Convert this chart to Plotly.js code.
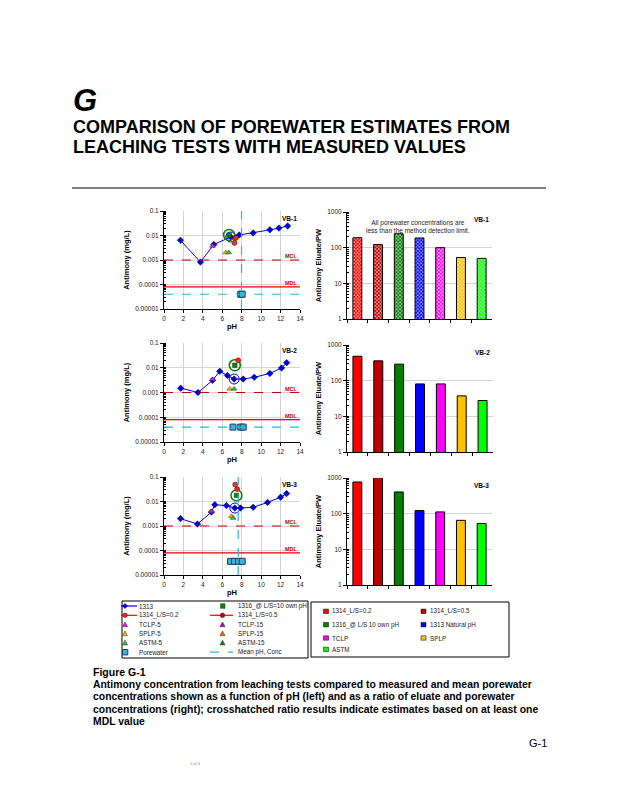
<!DOCTYPE html>
<html><head><meta charset="utf-8">
<script src="https://cdn.plot.ly/plotly-3.0.1.min.js"></script>
<style>html,body{margin:0;padding:0;background:#fff;}#chart{width:618px;height:800px;}</style>
</head><body><div id="chart"></div>
<script>
// ---------------- DATA ----------------
const vb1_1313_pH   = [1.69, 3.75, 5.13, 6.88, 7.74, 9.18, 10.9, 11.83, 12.73];
const vb1_1313_conc = [0.0064, 0.00082, 0.0043, 0.0087, 0.0105, 0.0127, 0.017, 0.020, 0.0245];
const vb2_1313_pH   = [1.72, 3.5, 5.0, 5.74, 6.53, 7.22, 8.15, 9.29, 10.9, 12.1, 12.63];
const vb2_1313_conc = [0.0015, 0.001, 0.0031, 0.0072, 0.0049, 0.0035, 0.0035, 0.0041, 0.0059, 0.0098, 0.016];
const vb3_1313_pH   = [1.69, 3.44, 4.88, 5.23, 6.43, 7.29, 7.88, 9.18, 10.66, 12.0, 12.62];
const vb3_1313_conc = [0.002, 0.0012, 0.0037, 0.0074, 0.0068, 0.0054, 0.0054, 0.0058, 0.0092, 0.015, 0.021];

const natural_pH   = [6.88, 7.22, 7.29];      // 1313 natural pH point (VB-1, VB-2, VB-3)
const natural_conc = [0.0087, 0.0035, 0.0054];
const own_pH   = [6.7, 7.29, 7.46];           // 1316 @ L/S 10 own pH
const own_conc = [0.0105, 0.0126, 0.0177];
const ls02_pH   = [7.4, 7.64, 7.53];          // 1314 L/S=0.2
const ls02_conc = [0.0079, 0.02, 0.032];
const ls05_pH   = [7.26, null, 7.33];         // 1314 L/S=0.5
const ls05_conc = [0.005, null, 0.049];
const tclp_pH   = [4.99, 5.0, 4.88];
const tclp_conc = [0.0037, 0.0034, 0.0039];
const splp_pH   = [6.36, 6.78, 6.95];
const splp_conc = [0.002, 0.0014, 0.0025];
const astm_pH   = [6.67, 7.22, 7.12];
const astm_conc = [0.002, 0.0014, 0.0021];
const vb1_pw_pH = [7.9, 8.05];
const vb1_pw_conc = [0.00004, 0.00004];
const vb2_pw_pH = [7.1, 7.9, 8.15];
const vb2_pw_conc = [0.00004, 0.00004, 0.00004];
const vb3_pw_pH = [6.85, 7.26, 7.67, 8.05];
const vb3_pw_conc = [0.000036, 0.000036, 0.000036, 0.000036];
const mean_pH   = [7.98, null, 7.64];
const mean_conc = [0.00004, 0.00004, null];
const MCL = 0.001;
const MDL = 0.00008;

const barCategories = ["1314_L/S=0.2", "1314_L/S=0.5", "1316_@L/S 10 own pH", "1313 Natural pH", "TCLP", "SPLP", "ASTM"];
const barColors = ["#FF0000", "#C00000", "#008000", "#0000FF", "#FF00FF", "#FFC000", "#00FF00"];
const vb1_ratio = [190, 122, 245, 187, 100, 53, 50];
const vb2_ratio = [484, 359, 290, 81, 81, 37.5, 27.8];
const vb3_ratio = [773, 1100, 406, 122, 112, 65, 53];

const leftTickVals = [0.00001, 0.0001, 0.001, 0.01, 0.1];
const leftTickText = ["0.00001", "0.0001", "0.001", "0.01", "0.1"];
const rightTickVals = [1, 10, 100, 1000];
const rightTickText = ["1", "10", "100", "1000"];
const sites = ["VB-1", "VB-2", "VB-3"];

// ---------------- LAYOUT HELPERS ----------------
const W = 618, H = 800;
const PX = x => x / W;
const PY = y => 1 - y / H;
const FONT = "Liberation Sans, Arial, sans-serif";

const leftBoxes = [[164, 300, 211, 309], [164, 300, 343, 442], [164, 300, 477, 575]];
const rightBoxes = [[347, 492, 212, 319], [347, 493, 345, 452], [347, 492, 478, 585]];

const layout = {
  width: W, height: H, margin: {l: 0, r: 0, t: 0, b: 0},
  paper_bgcolor: "#fff", plot_bgcolor: "#fff",
  showlegend: false, font: {family: FONT, size: 7, color: "#000"},
  bargap: 0.57, shapes: [], annotations: []
};

const data = [];
const pH_sets = [[vb1_1313_pH, vb1_1313_conc], [vb2_1313_pH, vb2_1313_conc], [vb3_1313_pH, vb3_1313_conc]];
const pw_sets = [[vb1_pw_pH, vb1_pw_conc], [vb2_pw_pH, vb2_pw_conc], [vb3_pw_pH, vb3_pw_conc]];
const ratios = [vb1_ratio, vb2_ratio, vb3_ratio];

for (let i = 0; i < 3; i++) {
  const lx = 2 * i + 1, rx = 2 * i + 2;
  const lxa = "x" + (lx === 1 ? "" : lx), lya = "y" + (lx === 1 ? "" : lx);
  const rxa = "x" + rx, rya = "y" + rx;
  const lb = leftBoxes[i], rb = rightBoxes[i];
  const axL = "xaxis" + (lx === 1 ? "" : lx), ayL = "yaxis" + (lx === 1 ? "" : lx);
  layout[axL] = {
    domain: [PX(lb[0]), PX(lb[1])], anchor: lya, range: [0, 14], dtick: 2, tick0: 0,
    ticks: "outside", ticklen: 3, tickcolor: "#000", showline: true, linecolor: "#000", linewidth: 1,
    gridcolor: "#d4d4d4", gridwidth: 1, zeroline: false, tickfont: {size: 6.5, color: "#222"},
    title: {text: "pH", font: {size: 7.5, weight: "bold"}, standoff: 2}
  };
  layout[ayL] = {
    domain: [PY(lb[3]), PY(lb[2])], anchor: lxa, type: "log", range: [-5, -1],
    tickmode: "array", tickvals: leftTickVals, ticktext: leftTickText,
    ticks: "outside", ticklen: 3, tickcolor: "#000", showline: true, linecolor: "#000", linewidth: 1,
    gridcolor: "#d4d4d4", gridwidth: 1, zeroline: false, tickfont: {size: 6.5, color: "#222"},
    minor: {ticks: "inside", ticklen: 2, tickcolor: "#000", dtick: "D1", showgrid: false},
    title: {text: "Antimony (mg/L)", font: {size: 7.5, weight: "bold"}, standoff: 4}
  };
  layout["xaxis" + rx] = {
    domain: [PX(rb[0]), PX(rb[1])], anchor: rya, type: "category", range: [-0.5, 6.5],
    showticklabels: false, ticks: "outside", tickson: "boundaries", ticklen: 3, tickcolor: "#000",
    showline: true, linecolor: "#000", linewidth: 1, showgrid: false, zeroline: false
  };
  layout["yaxis" + rx] = {
    domain: [PY(rb[3]), PY(rb[2])], anchor: rxa, type: "log", range: [0, 3],
    tickmode: "array", tickvals: rightTickVals, ticktext: rightTickText,
    ticks: "outside", ticklen: 3, tickcolor: "#000", showline: true, linecolor: "#000", linewidth: 1,
    gridcolor: "#d4d4d4", gridwidth: 1, zeroline: false, tickfont: {size: 6.5, color: "#222"},
    minor: {ticks: "inside", ticklen: 2, tickcolor: "#000", dtick: "D1", showgrid: false},
    title: {text: "Antimony Eluate/PW", font: {size: 7.5, weight: "bold"}, standoff: 4}
  };

  // reference lines through axis scales
  layout.shapes.push({type: "line", xref: lxa + " domain", yref: lya, x0: 0, x1: 1, y0: MCL, y1: MCL,
    line: {color: "#C00000", width: 1.2, dash: "dash"}});
  layout.shapes.push({type: "line", xref: lxa + " domain", yref: lya, x0: 0, x1: 1, y0: MDL, y1: MDL,
    line: {color: "#E00000", width: 1.2}});
  if (mean_conc[i] !== null) layout.shapes.push({type: "line", xref: lxa + " domain", yref: lya, x0: 0, x1: 1,
    y0: mean_conc[i], y1: mean_conc[i], line: {color: "#29B6D6", width: 1.2, dash: "dash"}});
  if (mean_pH[i] !== null) layout.shapes.push({type: "line", xref: lxa, yref: lya + " domain", x0: mean_pH[i], x1: mean_pH[i],
    y0: 0, y1: 1, line: {color: "#29B6D6", width: 1.2, dash: "dash"}});

  layout.annotations.push({xref: lxa + " domain", yref: lya, x: 1, y: Math.log10(MCL), text: "MCL", showarrow: false,
    xanchor: "right", yanchor: "bottom", font: {size: 5.5, color: "#C00000", weight: "bold"}, yshift: -1});
  layout.annotations.push({xref: lxa + " domain", yref: lya, x: 1, y: Math.log10(MDL), text: "MDL", showarrow: false,
    xanchor: "right", yanchor: "bottom", font: {size: 5.5, color: "#E00000", weight: "bold"}, yshift: -1});
  layout.annotations.push({xref: lxa + " domain", yref: lya + " domain", x: 1, y: 1, text: sites[i], showarrow: false,
    xanchor: "right", yanchor: "top", font: {size: 6.5, weight: "bold"}, xshift: -1, yshift: -2});
  layout.annotations.push({xref: rxa + " domain", yref: rya + " domain", x: 1, y: 1, text: sites[i], showarrow: false,
    xanchor: "right", yanchor: "top", font: {size: 6.5, weight: "bold"}, xshift: -1, yshift: -2});

  // left panel traces
  data.push({x: pw_sets[i][0], y: pw_sets[i][1], xaxis: lxa, yaxis: lya, mode: "markers", type: "scatter",
    marker: {symbol: "square", size: 6, color: "#3FB3D8", line: {color: "#1B3F66", width: 1}}});
  data.push({x: pH_sets[i][0], y: pH_sets[i][1], xaxis: lxa, yaxis: lya, mode: "lines+markers", type: "scatter",
    line: {color: "#0000FF", width: 1}, marker: {symbol: "diamond", size: 5, color: "#0000CC", line: {color: "#000066", width: 0.5}}});
  data.push({x: [natural_pH[i]], y: [natural_conc[i]], xaxis: lxa, yaxis: lya, mode: "markers", type: "scatter",
    marker: {symbol: "circle-open", size: 10, color: "#0000FF", line: {width: 1}}});
  data.push({x: [tclp_pH[i]], y: [tclp_conc[i]], xaxis: lxa, yaxis: lya, mode: "markers", type: "scatter",
    marker: {symbol: "triangle-up", size: 5, color: "#FF00FF", line: {color: "#333", width: 0.5}}});
  data.push({x: [splp_pH[i]], y: [splp_conc[i]], xaxis: lxa, yaxis: lya, mode: "markers", type: "scatter",
    marker: {symbol: "triangle-up", size: 5, color: "#FFB000", line: {color: "#333", width: 0.5}}});
  data.push({x: [astm_pH[i]], y: [astm_conc[i]], xaxis: lxa, yaxis: lya, mode: "markers", type: "scatter",
    marker: {symbol: "triangle-up", size: 5, color: "#22CC22", line: {color: "#333", width: 0.5}}});
  data.push({x: [own_pH[i]], y: [own_conc[i]], xaxis: lxa, yaxis: lya, mode: "markers", type: "scatter",
    marker: {symbol: "circle-open", size: 11, color: "#008000", line: {width: 1.5}}});
  data.push({x: [own_pH[i]], y: [own_conc[i]], xaxis: lxa, yaxis: lya, mode: "markers", type: "scatter",
    marker: {symbol: "square", size: 4.5, color: "#1A7A1A", line: {color: "#004400", width: 0.5}}});
  data.push({x: [ls02_pH[i]], y: [ls02_conc[i]], xaxis: lxa, yaxis: lya, mode: "markers", type: "scatter",
    marker: {symbol: "circle", size: 5, color: "#FF2020", line: {color: "#660000", width: 0.5}}});
  data.push({x: [ls05_pH[i]], y: [ls05_conc[i]], xaxis: lxa, yaxis: lya, mode: "markers", type: "scatter",
    marker: {symbol: "circle", size: 5, color: "#D04040", line: {color: "#660000", width: 0.5}}});

  // right panel bars
  const bar = {x: barCategories, y: ratios[i], xaxis: rxa, yaxis: rya, type: "bar",
    marker: {color: barColors, line: {color: "#000", width: 1}}};
  if (i === 0) {
    bar.marker.color = "#ffffff";
    bar.marker.pattern = {shape: "x", fgcolor: barColors, bgcolor: "#ffffff", size: 2.5, solidity: 0.75};
  }
  data.push(bar);
}

layout.annotations.push({xref: "x2 domain", yref: "y2 domain", x: 0.49, y: 0.955, showarrow: false, xanchor: "center", yanchor: "top",
  text: "All porewater concentrations are<br>less than the method detection limit.", font: {size: 6.5, color: "#222"}});

// ---------------- PAGE TEXT ----------------
function txt(x, y, text, size, opts) {
  layout.annotations.push(Object.assign({xref: "paper", yref: "paper", x: PX(x), y: PY(y), text: text, showarrow: false,
    xanchor: "left", yanchor: "middle", font: {size: size, family: FONT, color: "#000"}}, opts || {}));
}
txt(71, 101, "<b><i>G</i></b>", 31);
txt(71, 127, "<b>COMPARISON OF POREWATER ESTIMATES FROM</b>", 18);
txt(71, 147, "<b>LEACHING TESTS WITH MEASURED VALUES</b>", 18);
layout.shapes.push({type: "line", xref: "paper", yref: "paper", x0: PX(72), x1: PX(546), y0: PY(188), y1: PY(188), line: {color: "#000", width: 1}});

txt(91, 672, "<b>Figure G-1</b>", 10.5);
txt(91, 684, "<b>Antimony concentration from leaching tests compared to measured and mean porewater</b>", 10.4);
txt(91, 696.5, "<b>concentrations shown as a function of pH (left) and as a ratio of eluate and porewater</b>", 10.4);
txt(91, 709, "<b>concentrations (right); crosshatched ratio results indicate estimates based on at least one</b>", 10.4);
txt(91, 721, "<b>MDL value</b>", 10.4);
txt(527, 743, "G-1", 11);
txt(188, 763, "1 of 4", 4, {font: {size: 4, family: FONT, color: "#888"}});

// ---------------- LEGENDS (drawn boxes) ----------------
function rect(x0, y0, x1, y1, fill, lineColor, lw) {
  layout.shapes.push({type: "rect", xref: "paper", yref: "paper", x0: PX(x0), x1: PX(x1), y0: PY(y1), y1: PY(y0),
    fillcolor: fill, line: {color: lineColor, width: lw}});
}
function hline(x0, x1, y, color, dash) {
  layout.shapes.push({type: "line", xref: "paper", yref: "paper", x0: PX(x0), x1: PX(x1), y0: PY(y), y1: PY(y),
    line: {color: color, width: 1.2, dash: dash || "solid"}});
}
function tri(cx, cy, color) {
  const p = `M ${PX(cx - 2.6)},${PY(cy + 2.2)} L ${PX(cx + 2.6)},${PY(cy + 2.2)} L ${PX(cx)},${PY(cy - 2.6)} Z`;
  layout.shapes.push({type: "path", xref: "paper", yref: "paper", path: p, fillcolor: color, line: {color: "#333", width: 0.5}});
}
function diamond(cx, cy, color) {
  const p = `M ${PX(cx - 2.6)},${PY(cy)} L ${PX(cx)},${PY(cy - 2.6)} L ${PX(cx + 2.6)},${PY(cy)} L ${PX(cx)},${PY(cy + 2.6)} Z`;
  layout.shapes.push({type: "path", xref: "paper", yref: "paper", path: p, fillcolor: color, line: {color: "#000066", width: 0.5}});
}
function dot(cx, cy, color) {
  layout.shapes.push({type: "circle", xref: "paper", yref: "paper", x0: PX(cx - 2.3), x1: PX(cx + 2.3), y0: PY(cy + 2.3), y1: PY(cy - 2.3),
    fillcolor: color, line: {color: "#660000", width: 0.5}});
}
function ltxt(x, y, t) { txt(x, y, t, 6.3, {font: {size: 6.3, family: FONT, color: "#222"}}); }

rect(122, 601, 308, 658, "rgba(0,0,0,0)", "#000", 1);
const rows = [606, 615.3, 624.5, 633.5, 642.8, 652.2];
// column 1
hline(121, 137, rows[0], "#0000FF"); diamond(125, rows[0], "#0000CC"); ltxt(137, rows[0], "1313");
hline(121, 137, rows[1], "#FF0000"); dot(125, rows[1], "#FF2020"); ltxt(137, rows[1], "1314_L/S=0.2");
tri(125, rows[2], "#FF00FF"); ltxt(137, rows[2], "TCLP-5");
tri(125, rows[3], "#FFB000"); ltxt(137, rows[3], "SPLP-5");
tri(125, rows[4], "#22CC22"); ltxt(137, rows[4], "ASTM-5");
rect(122.5, rows[5] - 2.7, 127.8, rows[5] + 2.7, "#3FB3D8", "#1B3F66", 1); ltxt(137, rows[5], "Porewater");
// column 2
rect(220.5, rows[0] - 2.3, 225, rows[0] + 2.3, "#1A7A1A", "#004400", 0.5); ltxt(236, rows[0], "1316_@ L/S=10 own pH");
hline(210, 233, rows[1], "#FF0000"); dot(222.5, rows[1], "#C00000"); ltxt(236, rows[1], "1314_L/S=0.5");
tri(222.5, rows[2], "#B000B0"); ltxt(236, rows[2], "TCLP-15");
tri(222.5, rows[3], "#E07000"); ltxt(236, rows[3], "SPLP-15");
tri(222.5, rows[4], "#108010"); ltxt(236, rows[4], "ASTM-15");
hline(210, 233, rows[5], "#29B6D6", "dash"); ltxt(236, rows[5], "Mean pH, Conc");

// right legend
rect(311, 602, 509, 657, "rgba(0,0,0,0)", "#000", 1);
const rrows = [611.3, 624.7, 638, 649.3];
const rEntries = [[0, 0, 0], [1, 1, 0], [2, 0, 1], [3, 1, 1], [4, 0, 2], [5, 1, 2], [6, 0, 3]];
rEntries.forEach(e => {
  const [k, col, row] = e;
  const sx = col === 0 ? 323.5 : 421;
  rect(sx, rrows[row] - 2.2, sx + 5, rrows[row] + 2.2, barColors[k], "#000", 0.5);
  ltxt(sx + 6.5, rrows[row], barCategories[k].replace("1316_@L/S 10", "1316_@ L/S 10"));
});

Plotly.newPlot("chart", data, layout, {staticPlot: true});
</script></body></html>
